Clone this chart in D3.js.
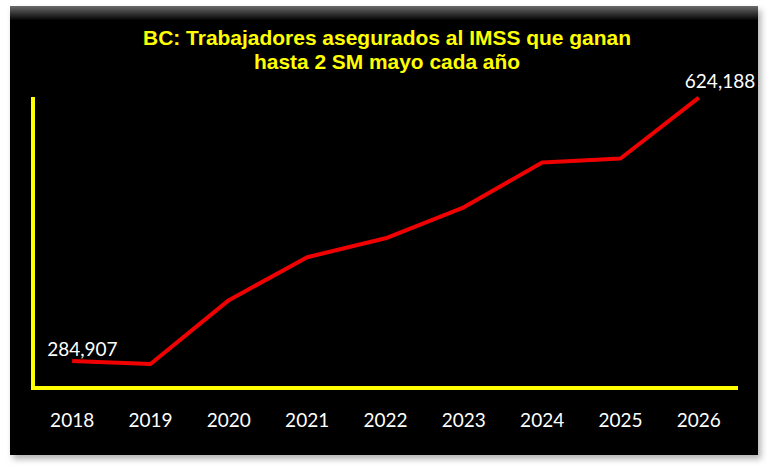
<!DOCTYPE html>
<html lang="es">
<head>
<meta charset="UTF-8">
<title>BC: Trabajadores asegurados al IMSS</title>
<script src="https://d3js.org/d3.v7.min.js"></script>
<style>
    body { margin: 0; padding: 0; background: #ffffff; }
    svg { display: block; }
    .title { fill: #ffff00; font-family: "Liberation Sans Narrow", "Arial Narrow", "Liberation Sans", sans-serif; font-weight: bold; font-size: 21px; }
    .year { fill: #ffffff; font-family: Lato, "Open Sans", sans-serif; font-size: 19px; }
    .lbl { fill: #ffffff; font-family: Lato, "Open Sans", sans-serif; font-size: 19px; }
</style>
</head>
<body>
<svg width="770" height="470"></svg>
<script>
    // datos
    var years = ["2018", "2019", "2020", "2021", "2022", "2023", "2024", "2025", "2026"];
    var workers = [284907, 280900, 363200, 418500, 442900, 482800, 540600, 545800, 624188];
    var titleLines = ["BC: Trabajadores asegurados al IMSS que ganan", "hasta 2 SM mayo cada año"];

    var svg = d3.select("svg");

    var defs = svg.append("defs");
    var shadow = defs.append("filter").attr("id", "shadow")
        .attr("x", "-5%").attr("y", "-5%").attr("width", "110%").attr("height", "110%");
    shadow.append("feDropShadow").attr("dx", 3).attr("dy", 4).attr("stdDeviation", 3)
        .attr("flood-color", "#000").attr("flood-opacity", 0.3);
    var bevel = defs.append("linearGradient").attr("id", "bevel")
        .attr("x1", 0).attr("y1", 0).attr("x2", 0).attr("y2", 1);
    bevel.append("stop").attr("offset", "0%").attr("stop-color", "#6a6a6a");
    bevel.append("stop").attr("offset", "100%").attr("stop-color", "#050505");

    // panel negro
    svg.append("rect").attr("x", 10).attr("y", 6).attr("width", 748).attr("height", 449)
        .attr("fill", "#050505").attr("filter", "url(#shadow)");
    svg.append("rect").attr("x", 10).attr("y", 6).attr("width", 748).attr("height", 14)
        .attr("fill", "url(#bevel)");

    var x = d3.scaleBand().domain(years).range([33, 738]);
    var y = d3.scaleLinear().domain([250000, 625000]).range([388, 97]);

    // titulo
    svg.selectAll(".title").data(titleLines).enter().append("text")
        .attr("class", "title")
        .attr("x", 387)
        .attr("y", function(d, i) { return 45 + i * 24; })
        .attr("text-anchor", "middle")
        .attr("textLength", function(d, i) { return i == 0 ? 488 : 266; })
        .attr("lengthAdjust", "spacingAndGlyphs")
        .text(function(d) { return d; });

    // ejes amarillos
    svg.append("path")
        .attr("d", "M" + x.range()[0] + "," + y.range()[1] + "V" + y.range()[0] + "H" + x.range()[1])
        .attr("fill", "none").attr("stroke", "#ffff00").attr("stroke-width", 4);

    var xAxis = svg.append("g")
        .attr("transform", "translate(0," + y.range()[0] + ")")
        .call(d3.axisBottom(x).tickSize(0).tickPadding(26));
    xAxis.select(".domain").remove();
    xAxis.selectAll("text").attr("class", "year").attr("fill", null);

    // linea
    var line = d3.line()
        .x(function(d, i) { return x(years[i]) + x.bandwidth() / 2; })
        .y(function(d) { return y(d); });

    svg.append("path")
        .datum(workers)
        .attr("d", line)
        .attr("fill", "none")
        .attr("stroke", "#f00000")
        .attr("stroke-width", 4)
        .attr("stroke-linejoin", "round");

    // etiquetas primero y ultimo
    var fmt = d3.format(",");
    var ends = [0, workers.length - 1];
    svg.selectAll(".lbl").data(ends).enter().append("text")
        .attr("class", "lbl")
        .attr("x", function(i) { return x(years[i]) + x.bandwidth() / 2 + (i == 0 ? -25 : -14); })
        .attr("y", function(i) { return y(workers[i]) + (i == 0 ? -5 : -10); })
        .text(function(i) { return fmt(workers[i]); });
</script>
</body>
</html>
